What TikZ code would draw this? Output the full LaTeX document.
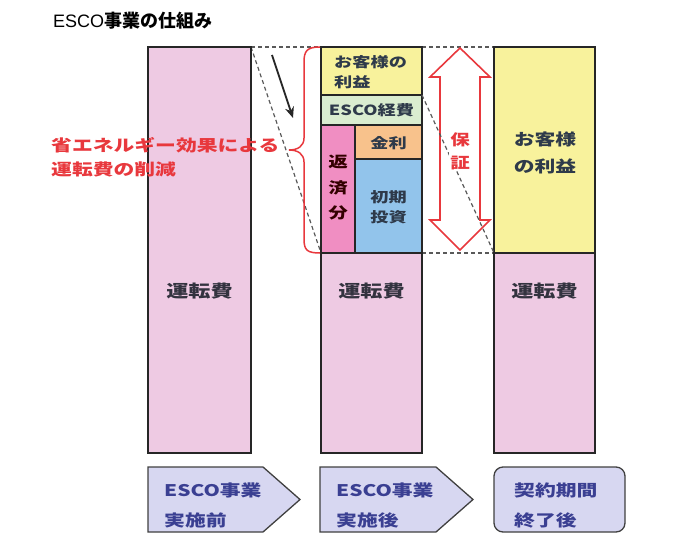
\documentclass[tikz,border=0pt]{standalone}
\usepackage{fontspec}
\setmainfont{Liberation Sans}
\newfontfamily\jp[FakeStretch=1.3]{Noto Sans CJK JP}
\newfontfamily\jptitle{Noto Sans CJK JP}
\usetikzlibrary{arrows.meta}
\definecolor{colpink}{HTML}{EECAE3}
\definecolor{colyellow}{HTML}{F8F29C}
\definecolor{colgreen}{HTML}{DAEDD0}
\definecolor{colhot}{HTML}{F08EC2}
\definecolor{colorange}{HTML}{F8C28C}
\definecolor{colblue}{HTML}{92C4EB}
\definecolor{colred}{HTML}{E8383D}
\definecolor{colnavy}{HTML}{3A3F92}
\definecolor{collav}{HTML}{D7D7F1}
\definecolor{coltext}{HTML}{33333F}
\definecolor{coldark}{HTML}{2E3A4A}
\tikzset{
  colbox/.style={draw=black!85, line width=1.4pt},
  dashline/.style={draw=black!65, line width=1.2pt, dash pattern=on 4pt off 3pt},
  bigtxt/.style={font=\jp\bfseries\fontsize{17}{24}\selectfont, text=coltext, inner sep=0pt, align=center},
  smalltxt/.style={font=\jp\bfseries\fontsize{14}{20}\selectfont, text=coldark, inner sep=0pt, align=left},
  redtxt/.style={font=\jp\bfseries\fontsize{16}{24}\selectfont, text=colred, inner sep=0pt, align=left},
  stagetxt/.style={font=\jp\bfseries\fontsize{16}{30}\selectfont, text=colnavy, inner sep=0pt, align=left},
  stage/.style={draw=black!75, line width=1.3pt, fill=collav}
}
\begin{document}
\begin{tikzpicture}[x=1pt,y=-1pt]
\useasboundingbox (0,0) rectangle (684,540);
% title
\node[anchor=west, inner sep=0pt, font=\fontsize{18}{20}\selectfont] (title) at (53,21) {ESCO{\jptitle\bfseries 事業の仕組み}};

% dashed guide lines
\coordinate (c1tr) at (251,47);
\coordinate (c2tl) at (321,47);
\coordinate (c2bl) at (321,253);
\coordinate (c2tr) at (422,47);
\coordinate (c2esco) at (422,95);
\coordinate (c2br) at (422,253);
\coordinate (c3tl) at (494,47);
\coordinate (c3bl) at (494,253);
\draw[dashline] (c1tr) -- (c2tl);
\draw[dashline] (c2tr) -- (c3tl);
\draw[dashline] (c1tr) -- (c2bl);
\draw[dashline] (c2br) -- (c3bl);

% column 1
\draw[colbox, fill=colpink] (148,47) rectangle (251,453);
\node[bigtxt] (run1) at (199.5,291) {運転費};

% column 2
\draw[colbox, fill=colpink] (321,253) rectangle (422,453);
\node[bigtxt] (run2) at (371.5,291) {運転費};
\draw[colbox, fill=colyellow] (321,47) rectangle (422,95);
\node[smalltxt, anchor=west] (merit2) at (334,72) {お客様の\\利益};
\draw[colbox, fill=colgreen] (321,95) rectangle (422,125);
\node[smalltxt] (cost) at (371.5,110.5) {ESCO経費};
\draw[colbox, fill=colhot] (321,125) rectangle (355,253);
\node[smalltxt, align=center, font=\jp\bfseries\fontsize{15}{25.5}\selectfont, text=black!80!red] (repay) at (338,188) {返\\済\\分};
\draw[colbox, fill=colorange] (355,125) rectangle (422,159);
\node[smalltxt] (interest) at (388.5,143) {金利};
\draw[colbox, fill=colblue] (355,159) rectangle (422,253);
\node[smalltxt, align=center] (invest) at (388.5,207) {初期\\投資};

% column 3
\draw[colbox, fill=colyellow] (494,47) rectangle (595,253);
\node[bigtxt, align=left, font=\jp\bfseries\fontsize{16}{27}\selectfont, text=coldark] (merit3) at (545,153) {お客様\\の利益};
\draw[colbox, fill=colpink] (494,253) rectangle (595,453);
\node[bigtxt] (run3) at (544.5,291) {運転費};

% guarantee double arrow
\draw[colred, line width=1.6pt, fill=white, line join=miter]
  (460,48) -- (490,77) -- (480,77) -- (480,220) -- (490,220) -- (460,250)
  -- (430,220) -- (440,220) -- (440,77) -- (430,77) -- cycle;
\draw[dashline] (c2esco) -- (c3bl);
\node[redtxt, align=center, font=\jp\bfseries\fontsize{15}{23}\selectfont, fill=white, inner sep=1pt] (guar) at (460,151.5) {保\\証};

% black trend arrow
\coordinate (ta) at (272,55);
\coordinate (tb) at (293,118);
\draw[line width=1.8pt, black!85, -{Stealth[length=11pt,width=9pt]}] (ta) -- (tb);

% red brace
\draw[colred, line width=1.5pt]
  (320,47) .. controls (307,47) and (304,51) .. (304,62)
  -- (304,138) .. controls (304,146) and (298,150) .. (289,150)
  .. controls (298,150) and (304,154) .. (304,162)
  -- (304,239) .. controls (304,250) and (307,253) .. (320,253);
\node[redtxt, anchor=west] (saving) at (51,157.5) {省エネルギー効果による\\運転費の削減};

% bottom stage arrows
\draw[stage] (148,467) -- (263,467) -- (300,499.5) -- (263,532) -- (148,532) -- cycle;
\node[stagetxt, anchor=west] (st1) at (164,505) {ESCO事業\\実施前};
\draw[stage] (320,467) -- (436,467) -- (473,499.5) -- (436,532) -- (320,532) -- cycle;
\node[stagetxt, anchor=west] (st2) at (336,505) {ESCO事業\\実施後};
\draw[stage, rounded corners=9pt] (494,467) rectangle (625,532);
\node[stagetxt, anchor=west] (st3) at (514,505) {契約期間\\終了後};
\end{tikzpicture}
\end{document}
